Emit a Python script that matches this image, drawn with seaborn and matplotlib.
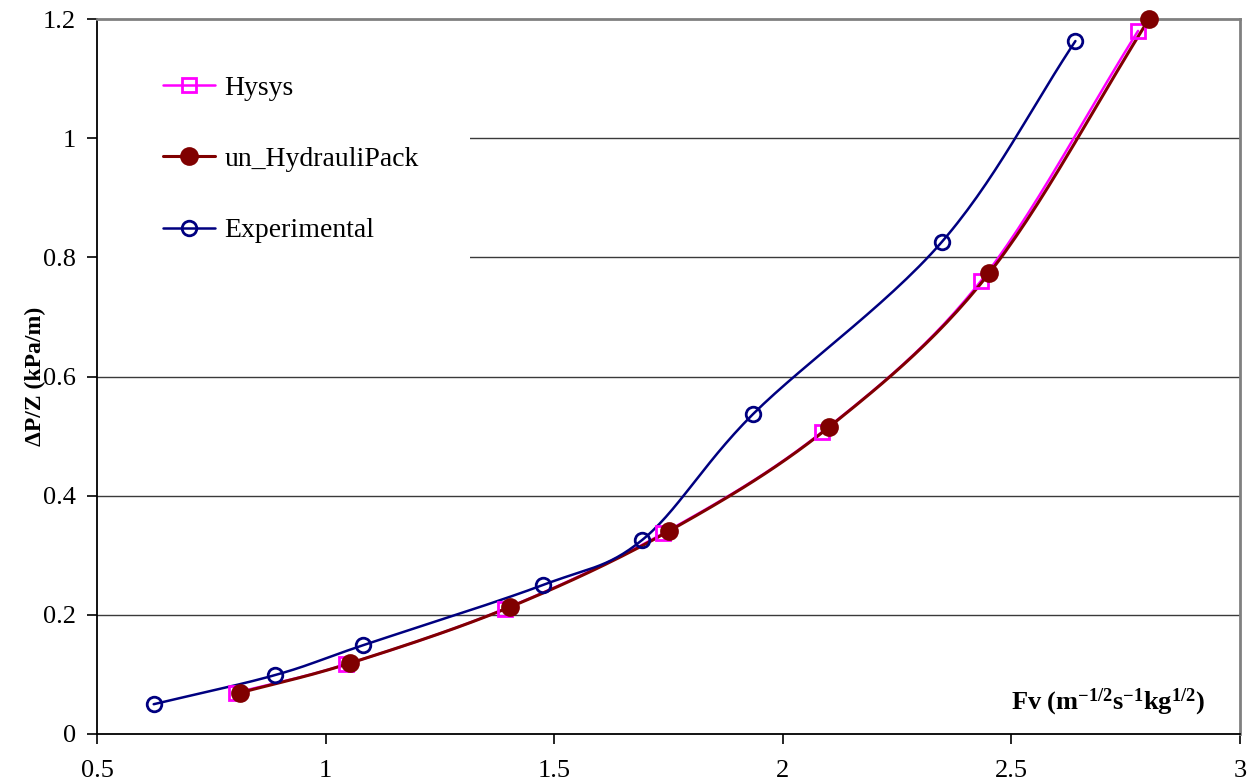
import numpy as np
import pandas as pd
import matplotlib
matplotlib.use("Agg")
import matplotlib.pyplot as plt
from matplotlib.patches import Rectangle
import seaborn as sns

# Measured / simulated pressure drop per unit height vs. F-factor
fv_hysys = [0.803, 1.045, 1.392, 1.739, 2.086, 2.433, 2.777]
dp_hysys = [0.069, 0.117, 0.210, 0.337, 0.507, 0.760, 1.180]

fv_hpack = [0.812, 1.054, 1.403, 1.752, 2.101, 2.452, 2.801]
dp_hpack = [0.069, 0.119, 0.213, 0.341, 0.515, 0.774, 1.200]

fv_exp = [0.624, 0.890, 1.082, 1.475, 1.693, 1.935, 2.348, 2.640]
dp_exp = [0.050, 0.099, 0.149, 0.250, 0.326, 0.537, 0.826, 1.163]

x_ticks = [0.5, 1, 1.5, 2, 2.5, 3]
x_tick_labels = ["0.5", "1", "1.5", "2", "2.5", "3"]
y_ticks = [0, 0.2, 0.4, 0.6, 0.8, 1.0, 1.2]
y_tick_labels = ["0", "0.2", "0.4", "0.6", "0.8", "1", "1.2"]


def smooth(xs, ys, n=30):
    """Catmull-Rom curve through the points (spreadsheet-style smoothed line)."""
    p = np.column_stack([xs, ys]).astype(float)
    p = np.vstack([p[0] - (p[1] - p[0]), p, p[-1] + (p[-1] - p[-2])])
    out = []
    for i in range(1, len(p) - 2):
        p0, p1, p2, p3 = p[i - 1], p[i], p[i + 1], p[i + 2]
        t = np.linspace(0, 1, n, endpoint=False)[:, None]
        seg = 0.5 * ((2 * p1) + (-p0 + p2) * t
                     + (2 * p0 - 5 * p1 + 4 * p2 - p3) * t ** 2
                     + (-p0 + 3 * p1 - 3 * p2 + p3) * t ** 3)
        out.append(seg)
    out.append(p[-2][None, :])
    c = np.vstack(out)
    return pd.DataFrame({"x": c[:, 0], "y": c[:, 1]})


sns.set_theme(style="white")
plt.rcParams["font.family"] = ["Liberation Serif", "DejaVu Serif"]
plt.rcParams["mathtext.fontset"] = "custom"
plt.rcParams["mathtext.rm"] = "Liberation Serif"
plt.rcParams["mathtext.bf"] = "Liberation Serif:bold"
plt.rcParams["mathtext.it"] = "Liberation Serif:italic"
plt.rcParams["text.color"] = "black"
plt.rcParams["axes.labelcolor"] = "black"

fig = plt.figure(figsize=(12.56, 7.83), dpi=100)
ax = fig.add_axes([97 / 1256, 1 - 734 / 783, (1240 - 97) / 1256, (734 - 19) / 783])

series = [
    ("Hysys", fv_hysys, dp_hysys, "#FF00FF", "s", "none", 1.8, 10),
    ("un_HydrauliPack", fv_hpack, dp_hpack, "#800000", "o", "#800000", 2.2, 11.5),
    ("Experimental", fv_exp, dp_exp, "#000080", "o", "none", 1.8, 10.5),
]

handles = []
for name, xs, ys, color, mk, mfc, lw, ms in series:
    curve = smooth(xs, ys)
    sns.lineplot(data=curve, x="x", y="y", sort=False, estimator=None,
                 color=color, linewidth=lw, ax=ax, zorder=3)
    pts = pd.DataFrame({"x": xs, "y": ys})
    ax.plot(pts["x"], pts["y"], linestyle="none", marker=mk, markersize=ms,
            markerfacecolor=mfc, markeredgecolor=color, markeredgewidth=2.0,
            zorder=4, clip_on=False)
    h, = ax.plot([], [], color=color, linewidth=lw, marker=mk, markersize=ms,
                 markerfacecolor=mfc, markeredgecolor=color, markeredgewidth=2.0)
    handles.append((h, name))

ax.set_xlim(0.5, 3)
ax.set_ylim(0, 1.2)
ax.set_xticks(x_ticks)
ax.set_xticklabels(x_tick_labels)
ax.set_yticks(y_ticks)
ax.set_yticklabels(y_tick_labels)
ax.tick_params(axis="both", direction="out", length=7, width=1.2, color="black",
               labelsize=19, labelcolor="black", bottom=True, left=True)
ax.tick_params(axis="x", pad=12)
ax.tick_params(axis="y", pad=8)

for y in y_ticks[1:-1]:
    ax.axhline(y, color="#3a3a3a", linewidth=1.0, zorder=1)

# white panel behind the legend, hiding the grid in the upper-left corner
ax.add_patch(Rectangle((0, 0.66), 0.326, 0.33, transform=ax.transAxes,
                       facecolor="white", edgecolor="none", zorder=1.5))

ax.spines["left"].set_color("black")
ax.spines["bottom"].set_color("black")
ax.spines["left"].set_linewidth(1.3)
ax.spines["bottom"].set_linewidth(1.3)
ax.spines["top"].set_color("#808080")
ax.spines["right"].set_color("#808080")
ax.spines["top"].set_linewidth(2)
ax.spines["right"].set_linewidth(2)

ax.set_xlabel("")
ax.set_ylabel(r"ΔP/Z (kPa/m)", fontsize=17, fontweight="bold", color="black")
ax.yaxis.set_label_coords(-0.045, 0.5)
ax.text(0.969, 0.022, r"$\mathbf{Fv\ (m^{-1/2}s^{-1}kg^{1/2})}$",
        transform=ax.transAxes, ha="right", va="bottom", fontsize=19,
        color="black")

leg = ax.legend([h for h, _ in handles], [n for _, n in handles],
                loc="upper left", bbox_to_anchor=(0.058, 0.921), frameon=False,
                fontsize=20, handlelength=1.85, handletextpad=0.35,
                labelspacing=1.65, borderpad=0, borderaxespad=0,
                labelcolor="black")
leg.set_zorder(5)

fig.savefig("out.png", dpi=100)
